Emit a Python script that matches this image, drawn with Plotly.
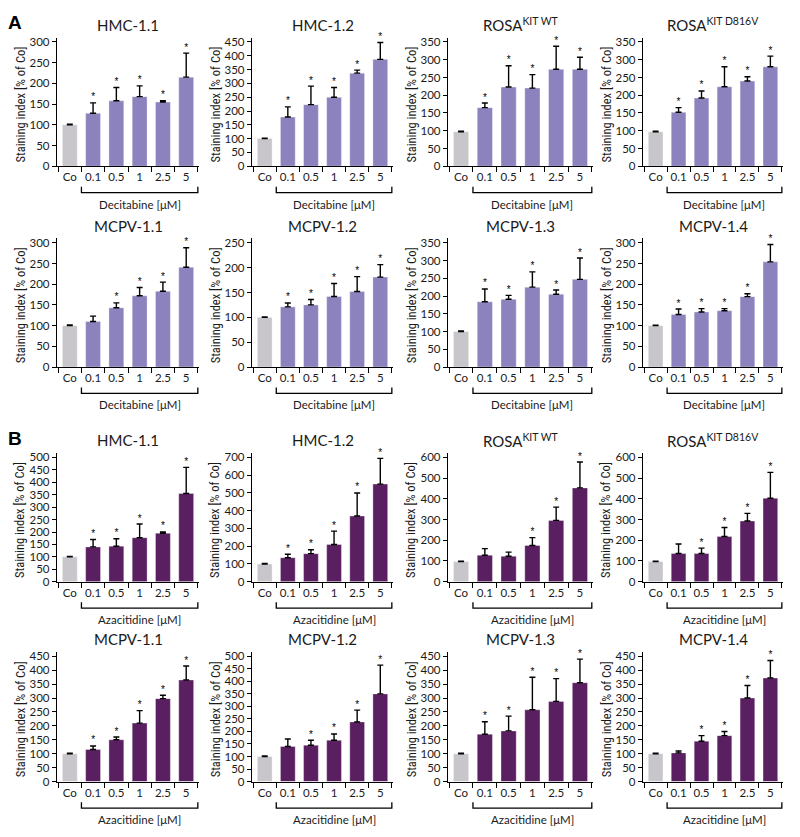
import plotly.graph_objects as go

categories = ["Co", "0.1", "0.5", "1", "2.5", "5"]

# ---- Panel A: Decitabine ----
titles_A = ["HMC-1.1", "HMC-1.2", "ROSA<sup>KIT WT</sup>", "ROSA<sup>KIT D816V</sup>",
            "MCPV-1.1", "MCPV-1.2", "MCPV-1.3", "MCPV-1.4"]
dec_hmc11 = [100, 128, 158, 168, 155, 215]
dec_hmc11_err = [1.5, 25, 32, 26, 3, 58]
dec_hmc12 = [100, 178, 223, 250, 337, 387]
dec_hmc12_err = [1.5, 37, 67, 35, 11, 61]
dec_rosawt = [97, 165, 223, 220, 273, 273]
dec_rosawt_err = [1.5, 13, 60, 38, 65, 34]
dec_rosad816v = [97, 152, 192, 224, 240, 280]
dec_rosad816v_err = [1.5, 13, 20, 56, 12, 30]
dec_mcpv11 = [100, 110, 143, 172, 183, 241]
dec_mcpv11_err = [1.5, 13, 12, 20, 22, 47]
dec_mcpv12 = [100, 121, 125, 142, 152, 181]
dec_mcpv12_err = [1, 8, 11, 26, 30, 25]
dec_mcpv13 = [100, 184, 191, 225, 205, 247]
dec_mcpv13_err = [1.5, 36, 11, 43, 12, 60]
dec_mcpv14 = [100, 127, 133, 136, 170, 254]
dec_mcpv14_err = [1, 13, 8, 5, 7, 42]
dec_stars = [[0, 1, 1, 1, 1, 1], [0, 1, 1, 1, 1, 1], [0, 1, 1, 1, 1, 1], [0, 1, 1, 1, 1, 1],
             [0, 0, 1, 1, 1, 1], [0, 1, 1, 1, 1, 1], [0, 1, 1, 1, 1, 1], [0, 1, 1, 1, 1, 1]]
dec_ymax = [300, 450, 350, 350, 300, 250, 350, 300]
dec_dtick = [50, 50, 50, 50, 50, 50, 50, 50]

# ---- Panel B: Azacitidine ----
titles_B = titles_A
aza_hmc11 = [100, 140, 143, 177, 195, 355]
aza_hmc11_err = [2, 30, 30, 55, 5, 105]
aza_hmc12 = [100, 135, 158, 210, 370, 550]
aza_hmc12_err = [3, 20, 22, 75, 130, 145]
aza_rosawt = [97, 128, 123, 175, 296, 453]
aza_rosawt_err = [2, 32, 20, 38, 64, 125]
aza_rosad816v = [97, 136, 136, 218, 293, 403]
aza_rosad816v_err = [2, 46, 26, 44, 37, 125]
aza_mcpv11 = [100, 115, 150, 210, 298, 365]
aza_mcpv11_err = [2, 13, 10, 45, 12, 50]
aza_mcpv12 = [100, 140, 145, 165, 238, 350]
aza_mcpv12_err = [2, 30, 20, 25, 47, 115]
aza_mcpv13 = [100, 170, 182, 258, 288, 355]
aza_mcpv13_err = [2, 45, 53, 117, 82, 85]
aza_mcpv14 = [100, 103, 145, 165, 300, 372]
aza_mcpv14_err = [2, 7, 20, 15, 45, 63]
aza_stars = [[0, 1, 1, 1, 1, 1], [0, 1, 1, 1, 1, 1], [0, 0, 0, 1, 1, 1], [0, 0, 1, 1, 1, 1],
             [0, 1, 1, 1, 1, 1], [0, 0, 1, 1, 1, 1], [0, 1, 1, 1, 1, 1], [0, 0, 1, 1, 1, 1]]
aza_ymax = [500, 700, 600, 600, 450, 500, 450, 450]
aza_dtick = [50, 100, 100, 100, 50, 50, 50, 50]

dec_means = [dec_hmc11, dec_hmc12, dec_rosawt, dec_rosad816v, dec_mcpv11, dec_mcpv12, dec_mcpv13, dec_mcpv14]
dec_errs = [dec_hmc11_err, dec_hmc12_err, dec_rosawt_err, dec_rosad816v_err,
            dec_mcpv11_err, dec_mcpv12_err, dec_mcpv13_err, dec_mcpv14_err]
aza_means = [aza_hmc11, aza_hmc12, aza_rosawt, aza_rosad816v, aza_mcpv11, aza_mcpv12, aza_mcpv13, aza_mcpv14]
aza_errs = [aza_hmc11_err, aza_hmc12_err, aza_rosawt_err, aza_rosad816v_err,
            aza_mcpv11_err, aza_mcpv12_err, aza_mcpv13_err, aza_mcpv14_err]

# ---- layout geometry (pixels) ----
W, H = 800, 837
col_px = [(57, 199), (252, 393), (448, 593), (643, 783)]
row_px = [(165, 35), (368, 238), (585, 455), (787, 656)]  # (bottom, top)

GRAY = "#C8C6CB"
DEC = "#8C82BD"
AZA = "#5A1F60"
FAM = "Lato, Liberation Sans, Arial"
TICKFONT = dict(family=FAM, size=11.5, color="#1a1a1a")
TITLEFONT = dict(family="Liberation Sans Narrow, Roboto Condensed, Liberation Sans", size=12.5, color="#1a1a1a")

fig = go.Figure()
annotations = []
shapes = []

panels = []
for i in range(8):
    panels.append((i // 4, i % 4, titles_A[i], dec_means[i], dec_errs[i], dec_stars[i],
                   dec_ymax[i], dec_dtick[i], DEC, "Decitabine [μM]"))
for i in range(8):
    panels.append((2 + i // 4, i % 4, titles_B[i], aza_means[i], aza_errs[i], aza_stars[i],
                   aza_ymax[i], aza_dtick[i], AZA, "Azacitidine [μM]"))

for k, (r, c, title, means, errs, stars, ymax, dtick, color, drug) in enumerate(panels):
    idx = k + 1
    xa = "x" if idx == 1 else f"x{idx}"
    ya = "y" if idx == 1 else f"y{idx}"
    xl = "xaxis" if idx == 1 else f"xaxis{idx}"
    yl = "yaxis" if idx == 1 else f"yaxis{idx}"
    x0, x1 = col_px[c]
    yb, yt = row_px[r]
    colors = [GRAY] + [color] * 5
    fig.add_trace(go.Bar(
        x=categories, y=means, xaxis=xa, yaxis=ya, width=0.64,
        marker=dict(color=colors, line=dict(color="rgba(255,255,255,0.35)", width=1)),
        error_y=dict(type="data", symmetric=False, array=errs, arrayminus=[0] * 6,
                     color="black", thickness=1.4, width=3),
        showlegend=False, hoverinfo="skip"))
    sx = [categories[j] for j in range(6) if stars[j]]
    sy = [means[j] + errs[j] for j in range(6) if stars[j]]
    fig.add_trace(go.Scatter(
        x=sx, y=sy, xaxis=xa, yaxis=ya, mode="text", text=["*"] * len(sx),
        textposition="top center", cliponaxis=False,
        textfont=dict(size=10, color="black", family="Liberation Sans"),
        showlegend=False, hoverinfo="skip"))
    fig.layout[xl] = dict(
        domain=[x0 / W, x1 / W], anchor=ya, type="category", categoryorder="array",
        categoryarray=categories, range=[-0.55, 5.55], tickson="boundaries",
        ticks="outside", ticklen=5, tickwidth=1.2, tickcolor="black", tickangle=0,
        showline=True, linecolor="black", linewidth=1.4, showgrid=False,
        tickfont=TICKFONT, fixedrange=True)
    top_ext = ymax * 1.035
    fig.layout[yl] = dict(
        domain=[1 - yb / H, 1 - (yt) / H], anchor=xa, range=[0, top_ext],
        tickmode="linear", tick0=0, dtick=dtick, ticks="outside", ticklen=4,
        tickwidth=1.2, tickcolor="black", showline=True, linecolor="black",
        linewidth=1.4, showgrid=False, zeroline=False, tickfont=TICKFONT, fixedrange=True)
    # bracket under concentrations
    shapes.append(dict(type="path", xref=xa, yref=f"{ya} domain",
                       path="M 0.5,-0.16 L 0.5,-0.205 L 5.5,-0.205 L 5.5,-0.16",
                       line=dict(color="black", width=1.3)))
    annotations.append(dict(text=drug, xref=xa, yref=f"{ya} domain", x=3.0, y=-0.295,
                            showarrow=False, yanchor="middle", xanchor="center",
                            font=dict(family=FAM, size=11.5, color="#1a1a1a")))
    annotations.append(dict(text=title, xref=f"{xa} domain", yref=f"{ya} domain", x=0.5, y=1.1,
                            showarrow=False, yanchor="middle", xanchor="center",
                            font=dict(family=FAM, size=15, color="#1a1a1a")))
    annotations.append(dict(text="Staining index [% of Co]", xref="paper", yref=f"{ya} domain",
                            x=(x0 - 37) / W, y=0.48, textangle=-90, showarrow=False,
                            xanchor="center", yanchor="middle", font=TITLEFONT))

annotations.append(dict(text="<b>A</b>", xref="paper", yref="paper", x=15 / W, y=1 - 20 / H,
                        showarrow=False, xanchor="center", yanchor="middle",
                        font=dict(family="Liberation Sans, Arial", size=19, color="black")))
annotations.append(dict(text="<b>B</b>", xref="paper", yref="paper", x=15 / W, y=1 - 440 / H,
                        showarrow=False, xanchor="center", yanchor="middle",
                        font=dict(family="Liberation Sans, Arial", size=19, color="black")))

fig.update_layout(width=W, height=H, margin=dict(l=0, r=0, t=0, b=0),
                  paper_bgcolor="white", plot_bgcolor="white",
                  annotations=annotations, shapes=shapes, bargap=0.3)
fig.write_html("out.html", config={"displayModeBar": False},
               post_script="document.body.style.margin='0';document.body.style.padding='0';")
